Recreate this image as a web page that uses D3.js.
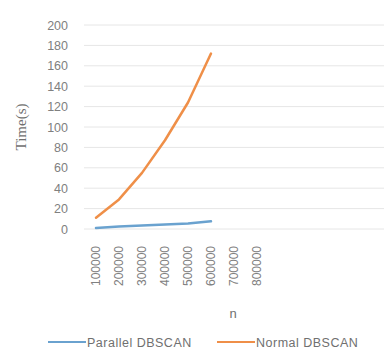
<!DOCTYPE html>
<html><head><meta charset="utf-8">
<script src="https://cdn.jsdelivr.net/npm/d3@7"></script>
<style>body{margin:0;background:#fff}</style>
</head><body><svg id="c" width="389" height="355"></svg>
<script>
const categories = ["100000","200000","300000","400000","500000","600000","700000","800000"];
const parallel = [1, 2.5, 3.5, 4.5, 5.5, 7.5];
const normal = [11, 29, 55, 87, 124, 172];
const yTicks = [0,20,40,60,80,100,120,140,160,180,200];
const seriesNames = ["Parallel DBSCAN","Normal DBSCAN"];
const colors = ["#6aa2cf","#ef8f48"];

const svg = d3.select("#c");
const x = d3.scaleBand().domain(categories).range([84.5, 268.5]);
const y = d3.scaleLinear().domain([0,200]).range([229, 25]);
const gridRight = 384;

svg.append("g").selectAll("line").data(yTicks).join("line")
  .attr("x1", 84).attr("x2", gridRight)
  .attr("y1", d=>y(d)).attr("y2", d=>y(d))
  .attr("stroke", "#e6e6e6").attr("stroke-width", 1);

const yAxis = svg.append("g").attr("transform","translate(84,0)")
  .call(d3.axisLeft(y).tickValues(yTicks).tickSize(0).tickPadding(16));
yAxis.select(".domain").remove();
yAxis.selectAll("text").attr("fill","#808080").style("font-family","Liberation Sans, Arial, sans-serif").style("font-size","12.5px");

const xAxis = svg.append("g").attr("transform","translate(0,229)")
  .call(d3.axisBottom(x).tickSize(0));
xAxis.select(".domain").remove();
xAxis.selectAll("text")
  .attr("fill","#808080").style("font-family","Liberation Sans, Arial, sans-serif").style("font-size","12px")
  .attr("text-anchor","end").attr("transform","rotate(-90)")
  .attr("x", -17).attr("y", 0).attr("dy","0.35em");

const line = d3.line().x((d,i)=>x(categories[i]) + x.bandwidth()/2).y(d=>y(d));
[parallel, normal].forEach((s,k)=>{
  svg.append("path").datum(s).attr("d", line)
    .attr("fill","none").attr("stroke", colors[k]).attr("stroke-width", 2.5)
    .attr("stroke-linecap","round").attr("stroke-linejoin","round");
});

svg.append("text").attr("transform","translate(26,127) rotate(-90)")
  .attr("text-anchor","middle").attr("fill","#707070")
  .style("font-family","Liberation Serif, Times New Roman, serif").style("font-size","15px")
  .text("Time(s)");

svg.append("text").attr("x",233).attr("y",318).attr("text-anchor","middle").attr("fill","#707070")
  .style("font-family","Liberation Sans, Arial, sans-serif").style("font-size","13px").text("n");

const legX = [48, 217];
seriesNames.forEach((n,k)=>{
  svg.append("line").attr("x1",legX[k]).attr("x2",legX[k]+38).attr("y1",342).attr("y2",342)
    .attr("stroke",colors[k]).attr("stroke-width",2);
  svg.append("text").attr("x",legX[k]+39).attr("y",346.5).attr("fill","#707070")
    .style("font-family","Liberation Sans, Arial, sans-serif").style("font-size","12.5px")
    .style("letter-spacing","0.5px").text(n);
});
</script></body></html>
